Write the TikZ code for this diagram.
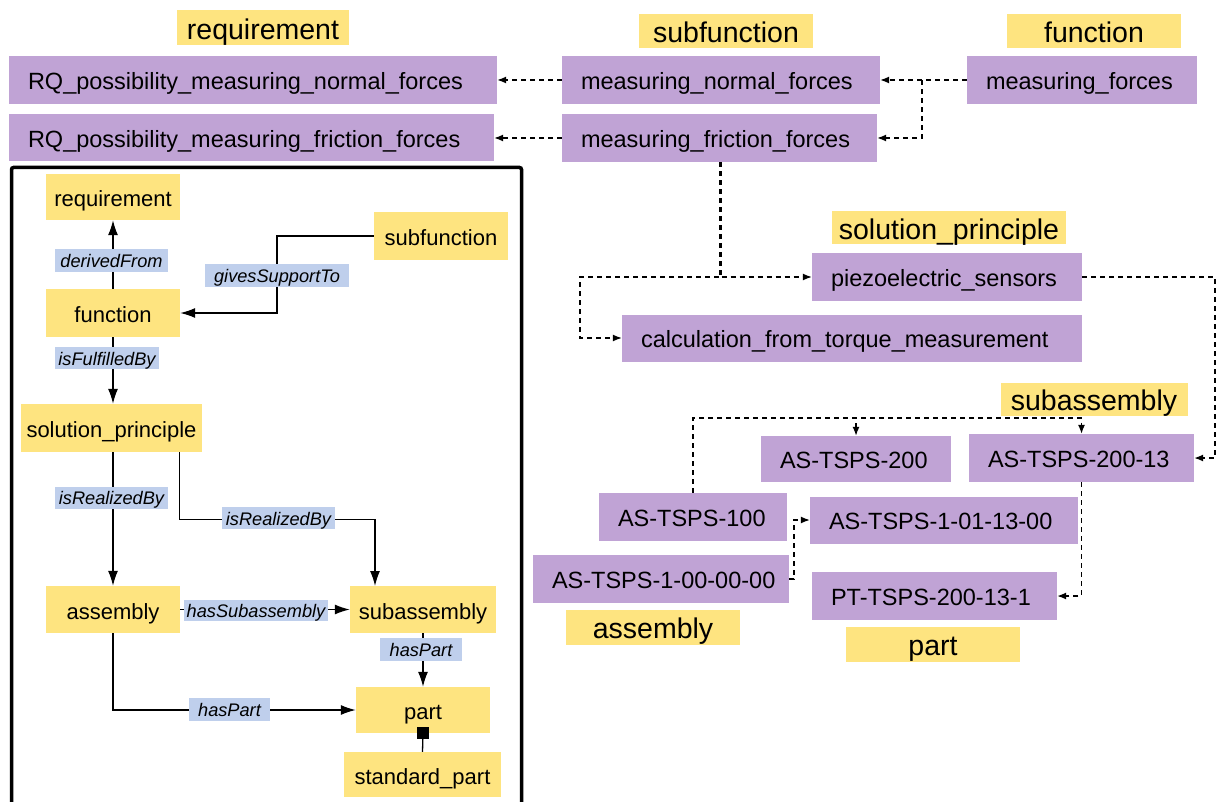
\documentclass[tikz,border=0pt]{standalone}
\usepackage{fontspec}
\setmainfont{Liberation Sans}
\usetikzlibrary{arrows.meta,calc}
\definecolor{ylw}{RGB}{254,228,128}
\definecolor{prp}{RGB}{192,163,213}
\definecolor{lblue}{RGB}{191,207,236}
\tikzset{
  box/.style={rectangle, inner sep=0pt, anchor=center},
  sz/.style 2 args={minimum width=#1, minimum height=#2},
  title/.style={box, fill=ylw, font=\fontsize{28.5}{33}\selectfont, text height=23pt, text depth=0pt},
  inst/.style={box, fill=prp},
  itxt/.style={inner sep=0pt, anchor=west, font=\fontsize{23.5}{28}\selectfont, text height=19pt, text depth=0pt},
  cls/.style={box, fill=ylw, font=\fontsize{22}{26}\selectfont, text height=19pt, text depth=0pt},
  lbl/.style={box, fill=lblue, font=\fontsize{18.2}{22}\selectfont\itshape, text height=14.6pt, text depth=0pt},
  sarr/.style={line width=1.3pt, -{Latex[length=15pt,width=10pt]}},
  sline/.style={line width=1.3pt},
  darr/.style={line width=1.3pt, dash pattern=on 5pt off 4pt, -{Latex[length=9pt,width=7pt]}},
  frame/.style={line width=3.5pt, rounded corners=2pt},
}
\begin{document}
\begin{tikzpicture}[x=1pt,y=-1pt]
\useasboundingbox[fill=white] (0,0) rectangle (1217,802);

% ---------- frame ----------
\draw[frame] (11.5,167.5) rectangle (521.5,830);

% ---------- titles ----------
\node[title, sz={172}{35}] (treq) at (263,28) {requirement};
\node[title, sz={174}{34}] (tsubf) at (726,31) {subfunction};
\node[title, sz={174}{34}] (tfunc) at (1094,31) {function};
\node[title, sz={234}{33}] (tsol) at (949,228) {solution\_principle};
\node[title, sz={187}{33}] (tsubasm) at (1094,399) {subassembly};
\node[title, sz={174}{35}] (tasm) at (653,627) {assembly};
\node[title, sz={174}{35}] (tpart) at (933,644) {part};

% ---------- instances ----------
\node[inst, sz={488}{48}] (rq1) at (253,80) {};
\node[itxt] (rq1t) at ($(rq1.west)+(19,0)$) {RQ\_possibility\_measuring\_normal\_forces};
\node[inst, sz={485}{47}] (rq2) at (251.5,138) {};
\node[itxt] (rq2t) at ($(rq2.west)+(19,0)$) {RQ\_possibility\_measuring\_friction\_forces};
\node[inst, sz={318}{48}] (mnf) at (721,80) {};
\node[itxt] (mnft) at ($(mnf.west)+(19,0)$) {measuring\_normal\_forces};
\node[inst, sz={315}{48}] (mff) at (719.5,138) {};
\node[itxt] (mfft) at ($(mff.west)+(19,0)$) {measuring\_friction\_forces};
\node[inst, sz={230}{48}] (mf) at (1082,80) {};
\node[itxt] (mft) at ($(mf.west)+(19,0)$) {measuring\_forces};
\node[inst, sz={270}{48}] (piezo) at (947,277) {};
\node[itxt] (piezot) at ($(piezo.west)+(19,0)$) {piezoelectric\_sensors};
\node[inst, sz={460}{47}] (calc) at (852,338) {};
\node[itxt] (calct) at ($(calc.west)+(19,0)$) {calculation\_from\_torque\_measurement};
\node[inst, sz={190}{46}] (as200) at (856,459) {};
\node[itxt] (as200t) at ($(as200.west)+(19,0)$) {AS-TSPS-200};
\node[inst, sz={225}{48}] (as20013) at (1081.5,458) {};
\node[itxt] (as20013t) at ($(as20013.west)+(19,0)$) {AS-TSPS-200-13};
\node[inst, sz={188}{48}] (as100) at (693,517) {};
\node[itxt] (as100t) at ($(as100.west)+(19,0)$) {AS-TSPS-100};
\node[inst, sz={268}{47}] (as1011300) at (944,520) {};
\node[itxt] (as1011300t) at ($(as1011300.west)+(19,0)$) {AS-TSPS-1-01-13-00};
\node[inst, sz={256}{48}] (as1000000) at (661,579) {};
\node[itxt] (as1000000t) at ($(as1000000.west)+(19,0)$) {AS-TSPS-1-00-00-00};
\node[inst, sz={245}{48}] (pt) at (934.5,596) {};
\node[itxt] (ptt) at ($(pt.west)+(19,0)$) {PT-TSPS-200-13-1};

% ---------- dashed connectors ----------
\draw[darr] (mnf.west) -- (rq1.east);
\draw[darr] (mff.west) -- (rq2.east);
\draw[darr] (mf.west) -- (mnf.east);
\draw[darr] (mf.west) -- (922,80) |- (mff.east);
\draw[darr] (mff.south) |- (piezo.west);
\draw[darr] ($(mff.south)+(1.4,0)$) -- ($(mff.south |- piezo.west)+(1.4,0)$) -- (580,277) |- (calc.west);
\draw[darr] (piezo.east) -- (1215,277) |- (as20013.east);
\draw[darr] (as100.north) -- (693,418) -| (as200.north);
\draw[darr] (as100.north) -- (693,418) -| (as20013.north);
\draw[darr] (as20013.south) |- (pt.east);
\draw[darr] (as1000000.east) -- (794,579) |- (as1011300.west);

% ---------- schema classes ----------
\node[cls, sz={134}{46}] (lreq) at (113,197) {requirement};
\node[cls, sz={134}{48}] (lsubf) at (441,236) {subfunction};
\node[cls, sz={134}{48}] (lfunc) at (113,313) {function};
\node[cls, sz={181}{48}] (lsol) at (111.5,428) {solution\_principle};
\node[cls, sz={134}{47}] (lasm) at (113,609.5) {assembly};
\node[cls, sz={146}{47}] (lsubasm) at (423,609.5) {subassembly};
\node[cls, sz={134}{46}] (lpart) at (423,710) {part};
\node[cls, sz={157}{45}] (lstd) at (422.5,774.5) {standard\_part};

% ---------- schema connectors ----------
\draw[sarr] (lfunc.north) -- (lreq.south);
\draw[sarr] (lsubf.west) -- (277,236) |- (lfunc.east);
\draw[sarr] (lfunc.south) -- (lfunc.south |- lsol.north);
\draw[sarr] (lasm.north |- lsol.south) -- (lasm.north);
\draw[sarr] ($(lsol.south east)+(-23,0)$) -- ++(0,67) -| (375,586);
\draw[sarr] (lasm.east) -- (lsubasm.west);
\draw[sarr] (lsubasm.south) -- (lpart.north);
\draw[sarr] (lasm.south) |- (lpart.west);
\draw[sline] (lstd.north) -- (lpart.south);
\node[box, fill=black, minimum size=12] (sq) at (lpart.south) {};

% ---------- connector labels ----------
\node[lbl, sz={113}{23}] (ldf) at (111.5,260.5) {derivedFrom};
\node[lbl, sz={144}{23}] (lgst) at (277,275.5) {givesSupportTo};
\node[lbl, sz={104}{22}] (lifb) at (107,358) {isFulfilledBy};
\node[lbl, sz={113}{22}] (lirb1) at (111.5,497.5) {isRealizedBy};
\node[lbl, sz={113}{22}] (lirb2) at (278.5,518) {isRealizedBy};
\node[lbl, sz={144}{21}] (lhsa) at (256,610.5) {hasSubassembly};
\node[lbl, sz={82}{23}] (lhp1) at (421,649.5) {hasPart};
\node[lbl, sz={81}{23}] (lhp2) at (229.5,709.5) {hasPart};
\end{tikzpicture}
\end{document}
